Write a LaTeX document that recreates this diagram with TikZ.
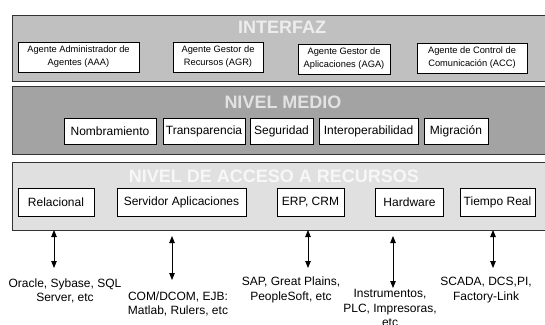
\documentclass[tikz,border=0pt]{standalone}
\usepackage{fontspec}
\setmainfont{Liberation Sans}
\usetikzlibrary{arrows.meta, positioning}
\definecolor{Marco}     {HTML}{333333}
\definecolor{Interfaz}  {HTML}{C0C0C0}
\definecolor{Medio}     {HTML}{A3A3A3}
\definecolor{Acceso}    {HTML}{E0E0E0}
\definecolor{TitInt}    {HTML}{EDEDED}
\definecolor{TitMedio}  {HTML}{E2E2E2}
\definecolor{TitAcceso} {HTML}{F7F7F7}

\begin{document}
\begin{tikzpicture}[x=1pt, y=-1pt, >={Triangle[length=7pt, width=5.5pt]},
  capa/.style={draw=Marco, line width=0.8pt, minimum width=550pt, anchor=north west, inner sep=0pt},
  caja/.style={draw=black, fill=white, line width=0.7pt, inner sep=0pt, align=center},
  agente/.style={caja, font=\fontsize{9.3}{13}\selectfont, minimum height=30pt},
  modulo/.style={caja, font=\fontsize{12}{14}\selectfont, minimum height=26pt},
  recurso/.style={caja, font=\fontsize{12}{14}\selectfont, minimum height=28pt},
  titulo/.style={font=\fontsize{18}{18}\selectfont\bfseries},
  ejemplo/.style={font=\fontsize{12}{14.5}\selectfont, align=center, inner sep=0pt}]
  \useasboundingbox (0,0) rectangle (545,324);
  % capas
  \node[capa, fill=Interfaz, minimum height=66pt] (interfaz) at (12,15) {};
  \node[capa, fill=Medio, minimum height=68pt] (medio) at (12,86) {};
  \node[capa, fill=Acceso, minimum height=68pt] (acceso) at (12,162) {};
  \node[titulo, text=TitInt] (tint) at (282,27) {INTERFAZ};
  \node[titulo, text=TitMedio] (tmed) at (283,102) {NIVEL MEDIO};
  \node[titulo, text=TitAcceso] (tacc) at (274,176) {NIVEL DE ACCESO A RECURSOS};
  % agentes
  \node[agente, minimum width=121pt] (aaa) at (78.5,57) {Agente Administrador de\\Agentes (AAA)};
  \node[agente, minimum width=90pt] (agr) at (218,57) {Agente Gestor de\\Recursos (AGR)};
  \node[agente, minimum width=92pt] (aga) at (344,59) {Agente Gestor de\\Aplicaciones (AGA)};
  \node[agente, minimum width=110pt] (acc) at (472,58) {Agente de Control de\\Comunicación (ACC)};
  % nivel medio
  \node[modulo, minimum width=92pt] (nom) at (110,131) {Nombramiento};
  \node[modulo, minimum width=82pt] (tra) at (204,131) {Transparencia};
  \node[modulo, minimum width=63pt] (seg) at (281.5,131) {Seguridad};
  \node[modulo, minimum width=99pt] (int) at (368.5,131) {Interoperabilidad};
  \node[modulo, minimum width=64pt] (mig) at (456,131) {Migración};
  % recursos
  \node[recurso, minimum width=76pt] (rel) at (56,202) {Relacional};
  \node[recurso, minimum width=129pt] (srv) at (181.5,202) {Servidor Aplicaciones};
  \node[recurso, minimum width=67pt] (erp) at (310.5,202) {ERP, CRM};
  \node[recurso, minimum width=68pt] (hw) at (409.5,202) {Hardware};
  \node[recurso, minimum width=75pt] (tr) at (497.5,202) {Tiempo Real};
  % ejemplos
  \node[ejemplo] (ora) at (65,291) {Oracle, Sybase, SQL\\Server, etc};
  \node[ejemplo] (com) at (178,304) {COM/DCOM, EJB:\\Matlab, Rulers, etc};
  \node[ejemplo] (sap) at (291,290) {SAP, Great Plains,\\PeopleSoft, etc};
  \node[ejemplo] (ins) at (390,308) {Instrumentos,\\PLC, Impresoras,\\etc};
  \node[ejemplo] (sca) at (486,290) {SCADA, DCS,PI,\\Factory-Link};
  % flechas
  \coordinate (a1) at (54,230);  \coordinate (b1) at (54,268);
  \coordinate (a2) at (172,236); \coordinate (b2) at (172,280);
  \coordinate (a3) at (308,230); \coordinate (b3) at (308,268);
  \coordinate (a4) at (393,236); \coordinate (b4) at (393,288);
  \coordinate (a5) at (493,230); \coordinate (b5) at (493,268);
  \foreach \i in {1,...,5}
    \draw[<->, line width=0.8pt] (a\i) -- (b\i);
\end{tikzpicture}
\end{document}
